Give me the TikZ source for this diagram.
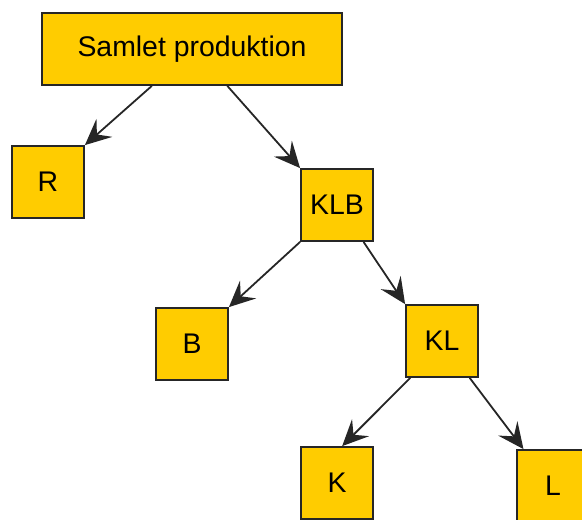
\documentclass[tikz,border=0pt]{standalone}
\usepackage{fontspec}
\setmainfont{Liberation Sans}
\usetikzlibrary{calc,arrows.meta}
\definecolor{boxgold}{RGB}{255,204,0}
\tikzset{box/.style={rectangle, draw=black!85, line width=0.9pt, fill=boxgold, inner sep=+0pt, minimum width=36pt, minimum height=36pt, font=\fontsize{14.2}{17}\selectfont}}
\tikzset{wide/.style={minimum width=150pt}}
\tikzset{link/.style={-{Stealth[length=13pt, width=12pt, inset=5pt]}, draw=black!85, line width=0.9pt}}

\begin{document}
\begin{tikzpicture}[x=0.5pt, y=-0.5pt]
    \clip (0,0) rectangle (582,519);

    \node[box,wide] (root) at (192,49) {Samlet produktion};
    \node[box] (R) at (48,182) {R};
    \node[box] (KLB) at (337,205) {KLB};
    \node[box] (B) at (192,344) {B};
    \node[box] (KL) at (442,341) {KL};
    \node[box] (K) at (337,483) {K};
    \node[box] (L) at (553,486) {L};

    \draw[link] ($(root.south west)!0.367!(root.south east)$) -- (R.north east);
    \draw[link] ($(root.south west)!0.617!(root.south east)$) -- (KLB.north west);
    \draw[link] (KLB.south west) -- (B.north east);
    \draw[link] ($(KLB.south west)!0.86!(KLB.south east)$) -- (KL.north west);
    \draw[link] ($(KL.south west)!0.07!(KL.south east)$) -- ($(K.north west)!0.57!(K.north east)$);
    \draw[link] ($(KL.south west)!0.875!(KL.south east)$) -- ($(L.north west)!0.1!(L.north east)$);

\end{tikzpicture}
\end{document}
